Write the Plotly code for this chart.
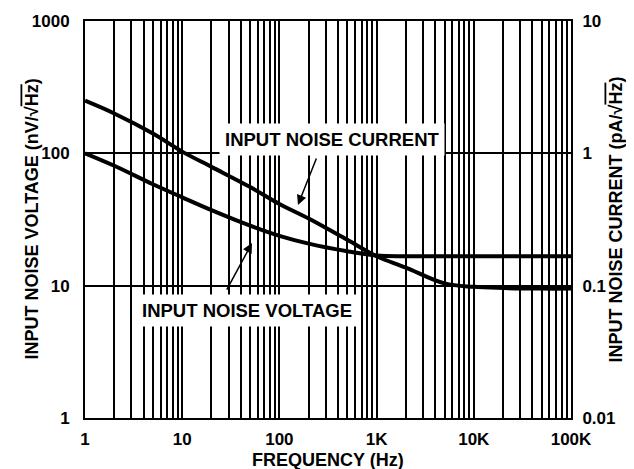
import plotly.graph_objects as go

# ---- data ----
freq_hz = [1, 2, 5, 10, 20, 50, 100, 200, 500, 1000, 2000, 5000, 10000, 20000, 50000, 100000]
noise_voltage_nv = [100, 80.5, 58.4, 46.5, 37.2, 28.4, 23.8, 20.8, 18.2, 16.9, 16.7, 16.7, 16.7, 16.7, 16.7, 16.7]
noise_current_pa = [2.5, 2.0, 1.41, 1.03, 0.79, 0.556, 0.414, 0.322, 0.222, 0.167, 0.137, 0.104, 0.098, 0.096, 0.095, 0.095]

x_grid_vals = [m * 10 ** d for d in range(0, 5) for m in range(1, 10)] + [100000]
x_tick_text_map = {1: "1", 10: "10", 100: "100", 1000: "1K", 10000: "10K", 100000: "100K"}
x_tick_text = [x_tick_text_map.get(v, "") for v in x_grid_vals]

y_left_vals = [1, 10, 100, 1000]
y_left_text = ["1", "10", "100", "1000"]
y_right_vals = [0.01, 0.1, 1, 10]
y_right_text = ["0.01", "0.1", "1", "10"]

FONT = "Liberation Sans, Arial, sans-serif"
tick_font = dict(family=FONT, size=17, color="black", weight="bold")
text_font = dict(family=FONT, size=18, color="black", weight="bold")
label_font = dict(family=FONT, size=18.5, color="black", weight="bold")

fig = go.Figure()
fig.add_trace(go.Scatter(
    x=freq_hz, y=noise_voltage_nv, mode="lines",
    line=dict(color="black", width=4, shape="spline", smoothing=1.0),
    yaxis="y", showlegend=False, hoverinfo="skip"))
fig.add_trace(go.Scatter(
    x=freq_hz, y=noise_current_pa, mode="lines",
    line=dict(color="black", width=4, shape="spline", smoothing=1.0),
    yaxis="y2", showlegend=False, hoverinfo="skip"))

# page body has an 8px default margin; size the figure to compensate
fig.update_layout(
    width=626, height=461,
    margin=dict(l=77, r=63, t=13, b=51, autoexpand=False),
    paper_bgcolor="white", plot_bgcolor="white",
    xaxis=dict(
        type="log", range=[0, 5], automargin=False,
        tickvals=x_grid_vals, ticktext=x_tick_text,
        showgrid=True, gridcolor="black", gridwidth=2,
        showline=True, linecolor="black", linewidth=2, mirror=True,
        ticks="", tickfont=tick_font, ticklabelstandoff=5,
        zeroline=False,
    ),
    yaxis=dict(
        type="log", range=[0, 3], automargin=False,
        tickvals=y_left_vals, ticktext=y_left_text,
        showgrid=True, gridcolor="black", gridwidth=2,
        showline=True, linecolor="black", linewidth=2,
        ticks="", tickfont=tick_font, ticklabelstandoff=10,
        zeroline=False,
    ),
    yaxis2=dict(
        type="log", range=[-2, 1], overlaying="y", side="right", automargin=False,
        tickvals=y_right_vals, ticktext=y_right_text,
        showgrid=False,
        showline=True, linecolor="black", linewidth=2,
        ticks="", tickfont=tick_font, ticklabelstandoff=6,
        zeroline=False,
    ),
)

annotations = [
    # axis titles
    dict(text="FREQUENCY (Hz)", xref="paper", yref="paper", x=0.5, y=0,
         xanchor="center", yanchor="middle", yshift=-42, showarrow=False, font=text_font),
    dict(text="INPUT NOISE VOLTAGE (nV/√<span style='text-decoration:overline'>Hz</span>)",
         xref="paper", yref="paper", x=0, y=0.5, xanchor="center", yanchor="middle",
         xshift=-54, textangle=-90, showarrow=False, font=text_font),
    dict(text="INPUT NOISE CURRENT (pA/√<span style='text-decoration:overline'>Hz</span>)",
         xref="paper", yref="paper", x=1, y=0.5, xanchor="center", yanchor="middle",
         xshift=44, textangle=-90, showarrow=False, font=text_font),
    # curve labels
    dict(text="INPUT NOISE CURRENT", x=2.541, y=2.101, xref="x", yref="y",
         showarrow=False, font=label_font, bgcolor="white", borderpad=5),
    dict(text="INPUT NOISE VOLTAGE", x=1.667, y=0.816, xref="x", yref="y",
         showarrow=False, font=label_font, bgcolor="white", borderpad=5),
    # arrows
    dict(text="", x=2.191, y=1.610, xref="x", yref="y", ax=19, ay=-48,
         showarrow=True, arrowhead=2, arrowsize=1.3, arrowwidth=1.5, arrowcolor="black"),
    dict(text="", x=1.718, y=1.322, xref="x", yref="y", ax=-26, ay=48,
         showarrow=True, arrowhead=2, arrowsize=1.3, arrowwidth=1.5, arrowcolor="black"),
]
fig.update_layout(annotations=annotations)

fig.write_html("out.html")
